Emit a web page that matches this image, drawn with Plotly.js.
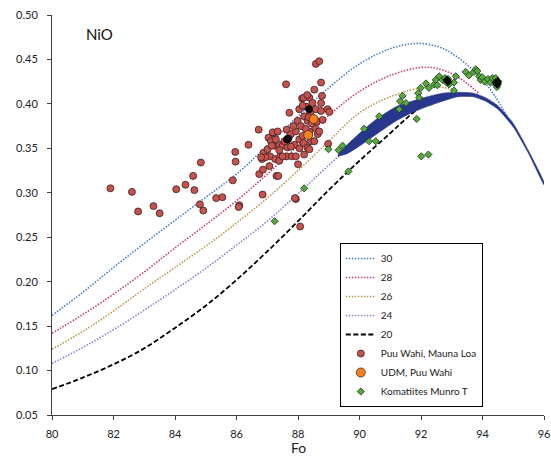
<!DOCTYPE html>
<html><head><meta charset="utf-8">
<script src="https://cdn.plot.ly/plotly-3.0.1.min.js"></script>
<style>html,body{margin:0;padding:0;background:#fff}#chart{width:551px;height:458px}</style>
</head><body><div id="chart"></div>
<script>
// Model curves (label = parameter)
const fo30 = [80,81,82,83,84,85,86,87,88,89,90,91,91.8,92.5,93,93.5,94,94.4,94.8];
const ni30 = [0.162,0.188,0.216,0.243,0.269,0.295,0.321,0.353,0.386,0.418,0.445,0.462,0.468,0.465,0.457,0.444,0.427,0.409,0.386];
const fo28 = [80,81,82,83,84,85,86,87,88,89,90,91,92,92.5,93,93.5,93.9];
const ni28 = [0.142,0.163,0.186,0.211,0.238,0.264,0.291,0.321,0.353,0.387,0.414,0.432,0.441,0.440,0.434,0.423,0.411];
const fo26 = [80,81,82,83,84,85,86,87,88,89,90,91,92,92.6,93.1];
const ni26 = [0.124,0.144,0.167,0.192,0.216,0.240,0.266,0.294,0.325,0.358,0.390,0.408,0.418,0.419,0.416];
const fo24 = [80,81,82,83,84,85,86,87,88,89,90,91,92,92.6];
const ni24 = [0.108,0.126,0.146,0.168,0.191,0.215,0.241,0.268,0.299,0.331,0.362,0.388,0.404,0.409];
const fo20 = [80,81,82,83,84,85,86,87,88,89,90,91,91.6,92.2];
const ni20 = [0.079,0.092,0.107,0.125,0.148,0.173,0.202,0.234,0.268,0.303,0.336,0.367,0.386,0.403];

// Thick blue band (upper / lower edges)
const bandFo    = [89.3,89.6,90.1,90.6,91.2,91.7,92.2,92.7,93.2,93.7,94.1,94.5,95.0,95.5,96.0];
const bandUpper = [0.343,0.354,0.370,0.384,0.397,0.403,0.408,0.412,0.413,0.412,0.407,0.398,0.378,0.347,0.312];
const bandLower = [0.341,0.344,0.355,0.367,0.381,0.390,0.397,0.403,0.408,0.408,0.403,0.394,0.374,0.344,0.309];

// Puu Wahi, Mauna Loa
const puuFo = [81.9,82.6,82.8,83.3,83.5,84.04,84.34,84.59,84.63,84.84,84.81,84.92,85.34,85.54,85.88,85.97,85.96,86.39,86.72,86.09,86.07,86.74,86.85,86.88,86.83,87.04,87.09,87.20,87.12,87.26,87.30,87.36,87.23,87.39,87.42,87.61,87.63,87.66,87.70,87.62,87.72,87.77,87.63,87.80,87.93,87.88,87.93,87.99,88.04,88.04,88.10,88.13,88.15,88.18,88.20,88.26,88.31,88.31,88.37,88.37,88.40,88.42,88.47,88.53,88.56,88.58,88.64,88.53,88.58,88.69,88.69,88.75,88.75,88.78,88.80,88.96,89.02,88.98,88.37,87.93,87.90,88.07,87.50,87.56,87.28,87.39,87.66,87.77,87.01,87.15,86.94,86.80,87.18,87.34,88.18,88.75,86.86,87.07,87.39,87.50,88.25,88.45,88.05,88.20,88.35,88.60,88.15,88.30,87.85,88.00];
const puuNi = [0.305,0.301,0.279,0.285,0.277,0.304,0.309,0.319,0.303,0.334,0.287,0.280,0.294,0.295,0.314,0.335,0.346,0.354,0.371,0.286,0.284,0.321,0.298,0.345,0.338,0.362,0.341,0.367,0.358,0.338,0.319,0.319,0.353,0.354,0.341,0.422,0.371,0.360,0.362,0.357,0.390,0.366,0.341,0.341,0.341,0.354,0.369,0.381,0.394,0.360,0.375,0.406,0.364,0.356,0.386,0.397,0.381,0.351,0.369,0.407,0.390,0.358,0.401,0.416,0.373,0.394,0.366,0.358,0.445,0.448,0.369,0.424,0.392,0.409,0.382,0.394,0.391,0.355,0.349,0.293,0.294,0.262,0.353,0.358,0.360,0.348,0.351,0.352,0.349,0.353,0.340,0.340,0.368,0.369,0.407,0.401,0.326,0.330,0.336,0.341,0.372,0.378,0.350,0.343,0.385,0.380,0.398,0.410,0.375,0.332];

// UDM, Puu Wahi
const udmFo = [88.51,88.33];
const udmNi = [0.383,0.365];

// Komatiites Munro T
const komFo = [87.24,88.20,88.99,89.32,89.45,89.64,90.15,90.31,90.53,90.64,91.29,91.32,91.40,91.51,91.86,91.91,91.94,91.99,92.01,92.24,92.16,92.26,92.43,92.48,92.53,92.59,92.70,92.78,92.85,92.88,92.91,92.83,93.07,93.07,93.13,93.45,93.56,93.72,93.78,93.83,93.89,93.94,93.99,94.07,94.18,94.26,94.32,94.43,94.43,94.45,94.48,94.50,94.47];
const komNi = [0.268,0.305,0.349,0.348,0.353,0.324,0.372,0.358,0.358,0.386,0.394,0.403,0.409,0.401,0.383,0.412,0.407,0.418,0.341,0.343,0.423,0.418,0.422,0.427,0.421,0.431,0.427,0.429,0.426,0.428,0.422,0.424,0.424,0.415,0.431,0.436,0.432,0.436,0.439,0.437,0.431,0.427,0.430,0.425,0.428,0.424,0.429,0.429,0.424,0.421,0.426,0.423,0.419];

// dark overlapping points (no legend entry)
const darkCircFo = [87.64,87.68,88.36];
const darkCircNi = [0.360,0.361,0.394];
const darkDiaFo = [92.84,92.88,94.44,94.48,94.50];
const darkDiaNi = [0.427,0.425,0.424,0.422,0.425];

const legendNames = ['30','28','26','24','20','Puu Wahi, Mauna Loa','UDM, Puu Wahi','Komatiites Munro T'];
const xTitle = 'Fo';
const panelLabel = 'NiO';

const dot = '1.5px,1.5px';
function curve(x, y, name, color, dash, w) {
  return {x: x, y: y, name: name, type: 'scatter', mode: 'lines',
    line: {color: color, width: w, dash: dash, shape: 'spline', smoothing: 1}};
}

const traces = [
  curve(fo30, ni30, legendNames[0], 'rgb(74,126,187)', dot, 1.6),
  curve(fo28, ni28, legendNames[1], 'rgb(196,62,124)', dot, 1.6),
  curve(fo26, ni26, legendNames[2], 'rgb(186,150,86)', dot, 1.6),
  curve(fo24, ni24, legendNames[3], 'rgb(140,128,200)', dot, 1.6),
  curve(fo20, ni20, legendNames[4], 'rgb(0,0,0)', '5px,2.5px', 1.8),
  {x: bandFo.concat(bandFo.slice().reverse()), y: bandUpper.concat(bandLower.slice().reverse()),
   type: 'scatter', mode: 'lines', fill: 'toself', fillcolor: 'rgb(40,54,140)',
   line: {color: 'rgba(40,54,140,0.55)', width: 1, shape: 'spline', smoothing: 0.6},
   showlegend: false, hoverinfo: 'skip'},
  {x: puuFo, y: puuNi, name: legendNames[5], type: 'scatter', mode: 'markers',
   marker: {symbol: 'circle', size: 7, color: 'rgb(196,82,78)', line: {color: 'rgb(60,30,30)', width: 0.8}}},
  {x: darkCircFo, y: darkCircNi, type: 'scatter', mode: 'markers', showlegend: false,
   marker: {symbol: 'circle', size: 7, color: 'rgb(20,10,10)', line: {color: 'rgb(0,0,0)', width: 0.8}}},
  {x: udmFo, y: udmNi, name: legendNames[6], type: 'scatter', mode: 'markers',
   marker: {symbol: 'circle', size: 9, color: 'rgb(245,130,30)', line: {color: 'rgb(80,40,10)', width: 0.8}}},
  {x: komFo, y: komNi, name: legendNames[7], type: 'scatter', mode: 'markers',
   marker: {symbol: 'diamond', size: 5.5, color: 'rgb(88,170,64)', line: {color: 'rgb(20,50,15)', width: 0.8}}},
  {x: darkDiaFo, y: darkDiaNi, type: 'scatter', mode: 'markers', showlegend: false,
   marker: {symbol: 'diamond', size: 6, color: 'rgb(10,15,10)', line: {color: 'rgb(0,0,0)', width: 0.8}}}
];

const fontFam = 'Lato, "Liberation Sans", sans-serif';
const layout = {
  width: 551, height: 458,
  margin: {l: 52, r: 7, t: 15, b: 43},
  paper_bgcolor: '#fff', plot_bgcolor: '#fff',
  font: {family: fontFam, size: 11, color: '#222'},
  showlegend: true,
  xaxis: {range: [80, 96], dtick: 2, tick0: 80, showgrid: false, zeroline: false,
    showline: true, linecolor: '#404040', linewidth: 1, ticks: 'outside', ticklen: 4, tickcolor: '#404040',
    ticklabelstandoff: 5, ticklabeloverflow: 'allow',
    tickfont: {family: fontFam, size: 11, color: '#222'}},
  yaxis: {range: [0.05, 0.5], dtick: 0.05, tick0: 0.05, tickformat: '.2f', showgrid: false, zeroline: false,
    showline: true, linecolor: '#404040', linewidth: 1, ticks: 'outside', ticklen: 4, tickcolor: '#404040',
    ticklabelstandoff: 7, ticklabeloverflow: 'allow',
    tickfont: {family: fontFam, size: 11, color: '#222'}},
  legend: {x: 0.585, y: 0.43, xanchor: 'left', yanchor: 'top', bgcolor: '#fff',
    bordercolor: '#000', borderwidth: 1, font: {family: fontFam, size: 10, color: '#222'},
    itemwidth: 30, tracegroupgap: 0},
  annotations: [
    {text: panelLabel, xref: 'paper', yref: 'paper', x: 0.066, y: 0.953,
     xanchor: 'left', yanchor: 'middle', showarrow: false, font: {family: fontFam, size: 15, color: '#111'}},
    {text: xTitle, xref: 'paper', yref: 'paper', x: 0.5, y: -0.105, borderpad: 0,
     xanchor: 'center', yanchor: 'bottom', showarrow: false, font: {family: fontFam, size: 14, color: '#222'}}
  ]
};

Plotly.newPlot('chart', traces, layout, {displayModeBar: false, staticPlot: true});
</script>
</body></html>
